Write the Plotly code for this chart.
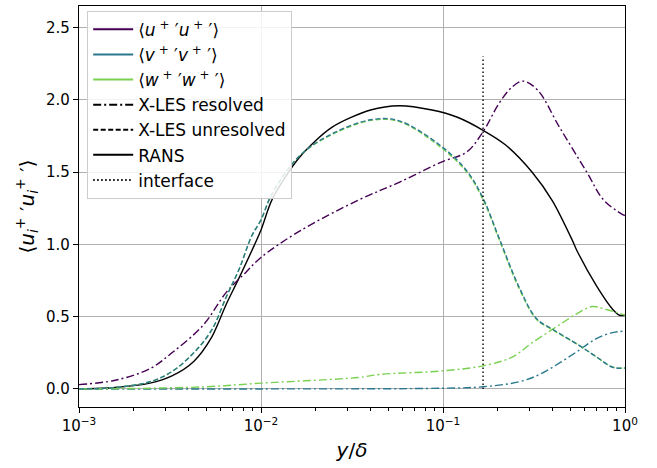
import plotly.graph_objects as go

# ---------------- data ----------------
u_res_x = [0.001, 0.00158, 0.00245, 0.00324, 0.0048, 0.00646, 0.0083, 0.01, 0.0162, 0.0347,
           0.0575, 0.098, 0.135, 0.166, 0.204, 0.24, 0.275, 0.33, 0.437, 0.617, 0.76, 0.96, 1.0]
u_res_y = [0.03, 0.06, 0.14, 0.25, 0.44, 0.67, 0.81, 0.91, 1.09, 1.31,
           1.43, 1.57, 1.64, 1.78, 1.98, 2.09, 2.13, 2.07, 1.81, 1.50, 1.31, 1.21, 1.20]

v_res_x = [0.001, 0.01, 0.1, 0.166, 0.263, 0.339, 0.437, 0.562, 0.70, 0.857, 1.0]
v_res_y = [0.0, 0.0, 0.005, 0.015, 0.05, 0.10, 0.18, 0.27, 0.35, 0.39, 0.40]

w_res_x = [0.001, 0.00158, 0.00245, 0.005, 0.01, 0.0347, 0.0447, 0.1, 0.166, 0.24, 0.309,
           0.42, 0.543, 0.66, 0.79, 1.0]
w_res_y = [0.0, 0.002, 0.005, 0.015, 0.04, 0.08, 0.10, 0.125, 0.16, 0.22, 0.32,
           0.43, 0.52, 0.57, 0.55, 0.51]

unres_x = [0.001, 0.00158, 0.00245, 0.00324, 0.00427, 0.00537, 0.00646, 0.00759, 0.0089, 0.01,
           0.0115, 0.0162, 0.0245, 0.041, 0.0575, 0.0955, 0.135, 0.166, 0.204, 0.263,
           0.327, 0.398, 0.562, 0.70, 0.857, 1.0]
w_unres_y = [0.0, 0.01, 0.05, 0.12, 0.25, 0.41, 0.64, 0.83, 1.06, 1.17,
             1.35, 1.61, 1.76, 1.86, 1.85, 1.68, 1.50, 1.31, 1.03, 0.69,
             0.48, 0.41, 0.30, 0.22, 0.15, 0.145]
v_unres_y = [0.0, 0.01, 0.05, 0.12, 0.25, 0.41, 0.64, 0.83, 1.06, 1.17,
             1.35, 1.61, 1.765, 1.865, 1.855, 1.69, 1.51, 1.32, 1.04, 0.70,
             0.485, 0.415, 0.30, 0.22, 0.15, 0.145]

rans_x = [0.001, 0.00158, 0.00245, 0.00324, 0.00427, 0.00537, 0.00646, 0.00759, 0.01, 0.0115,
          0.0162, 0.0245, 0.04, 0.0575, 0.087, 0.12, 0.166, 0.22, 0.309, 0.4, 0.513,
          0.543, 0.70, 0.857, 0.933, 1.0]
rans_y = [0.0, 0.01, 0.04, 0.09, 0.19, 0.36, 0.59, 0.77, 1.10, 1.31,
          1.60, 1.81, 1.93, 1.96, 1.93, 1.88, 1.79, 1.69, 1.50, 1.30, 1.03,
          0.96, 0.71, 0.55, 0.51, 0.51]

interface_x = [0.166, 0.166]
interface_y = [0.0, 2.3]

c_u = "#440154"
c_v = "#2a788e"
c_w = "#7ad151"

DASHDOT = "8px,3px,2px,3px"
DASHED = "5px,2.5px"
DOTTED = "1.5px,2.5px"
LW = 1.4

fig = go.Figure()

def add(x, y, color, dash, shape="spline", sm=1.0):
    line = dict(color=color, dash=dash, width=LW, shape=shape)
    if shape == "spline":
        line["smoothing"] = sm
    fig.add_trace(go.Scatter(x=x, y=y, mode="lines", showlegend=False, line=line))

add(rans_x, rans_y, "black", "solid", sm=0.8)
add(u_res_x, u_res_y, c_u, DASHDOT)
add(v_res_x, v_res_y, c_v, DASHDOT)
add(w_res_x, w_res_y, c_w, DASHDOT)
add(unres_x, w_unres_y, c_w, DASHED)
add(unres_x, v_unres_y, c_v, DASHED)
add(interface_x, interface_y, "black", DOTTED, shape="linear")

# legend entries
leg = [
    ("⟨<i>u</i><sup> +</sup> ′<i>u</i><sup> +</sup> ′⟩", c_u, "solid"),
    ("⟨<i>v</i><sup> +</sup> ′<i>v</i><sup> +</sup> ′⟩", c_v, "solid"),
    ("⟨<i>w</i><sup> +</sup> ′<i>w</i><sup> +</sup> ′⟩", c_w, "solid"),
    ("X-LES resolved", "black", DASHDOT),
    ("X-LES unresolved", "black", DASHED),
    ("RANS", "black", "solid"),
    ("interface", "black", DOTTED),
]
for name, col, d in leg:
    fig.add_trace(go.Scatter(x=[None], y=[None], mode="lines", name=name,
                             line=dict(color=col, dash=d, width=2)))

minor_vals = [m * 10 ** e for e in (-3, -2, -1) for m in range(2, 10)]

fig.update_layout(
    width=657, height=468,
    margin=dict(l=79, r=32, t=6, b=61),
    paper_bgcolor="white", plot_bgcolor="white",
    font=dict(family="DejaVu Sans", size=14, color="black"),
    legend=dict(x=0.015, y=0.988, xanchor="left", yanchor="top",
                bgcolor="rgba(255,255,255,0.85)", bordercolor="#cccccc", borderwidth=1,
                font=dict(size=17), tracegroupgap=0, itemwidth=40),
    xaxis=dict(
        type="log", range=[-3, 0],
        tickvals=[0.001, 0.01, 0.1, 1],
        ticktext=["10<sup>−3</sup>", "10<sup>−2</sup>", "10<sup>−1</sup>", "10<sup>0</sup>"],
        ticks="outside", ticklen=5, tickwidth=1, tickcolor="black",
        showline=True, linecolor="black", linewidth=1.2, mirror=True,
        showgrid=True, gridcolor="#b0b0b0", gridwidth=1.2,
        zeroline=False,
        minor=dict(tickvals=minor_vals, ticks="outside", ticklen=3, tickcolor="black",
                   showgrid=False),
        title=dict(text="<i>y</i>/<i>δ</i>", font=dict(size=20), standoff=8),
        tickfont=dict(size=15),
    ),
    yaxis=dict(
        range=[-0.125, 2.65],
        tickvals=[0, 0.5, 1.0, 1.5, 2.0, 2.5],
        tickformat=".1f",
        ticks="outside", ticklen=5, tickwidth=1, tickcolor="black",
        showline=True, linecolor="black", linewidth=1.2, mirror=True,
        showgrid=True, gridcolor="#b0b0b0", gridwidth=1.2,
        zeroline=False,
        title=dict(text="⟨<i>u</i><sub><i>i</i></sub><sup>+</sup> ′<i>u</i><sub><i>i</i></sub><sup>+</sup> ′⟩",
                   font=dict(size=20), standoff=6),
        tickfont=dict(size=15),
    ),
)

fig.write_html("out.html")
